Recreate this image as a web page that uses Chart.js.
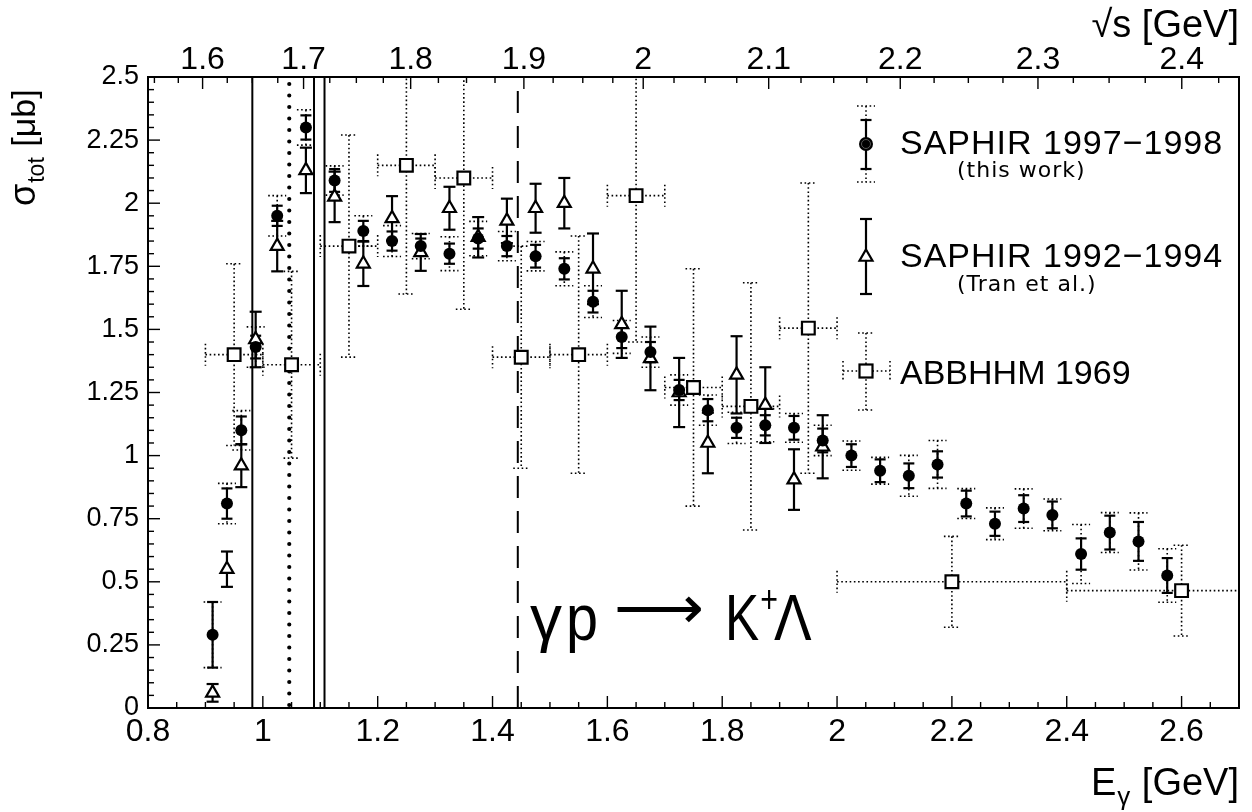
<!DOCTYPE html>
<html><head><meta charset="utf-8">
<script src="https://cdn.jsdelivr.net/npm/chart.js@4.4.1/dist/chart.umd.min.js"></script>
<style>html,body{margin:0;padding:0;background:#fff;overflow:hidden}canvas{display:block}</style>
</head><body>
<canvas id="c" width="1252" height="812"></canvas>
<script>
// ---------- data ----------
const MP = 0.938272;
// SAPHIR 1997-1998 (this work): E_gamma, sigma, stat, sys
const e97 = [0.9125,0.9375,0.9625,0.9875,1.025,1.075,1.125,1.175,1.225,1.275,1.325,1.375,1.425,1.475,1.525,1.575,1.625,1.675,1.725,1.775,1.825,1.875,1.925,1.975,2.025,2.075,2.125,2.175,2.225,2.275,2.325,2.375,2.425,2.475,2.525,2.575];
const sig97 = [0.29,0.81,1.10,1.43,1.95,2.30,2.09,1.89,1.85,1.83,1.80,1.86,1.83,1.79,1.74,1.61,1.47,1.41,1.26,1.18,1.11,1.12,1.11,1.06,1.00,0.94,0.92,0.965,0.81,0.73,0.79,0.765,0.61,0.695,0.66,0.525];
const stat97 = [0.13,0.06,0.055,0.045,0.04,0.048,0.045,0.04,0.038,0.03,0.04,0.04,0.04,0.045,0.042,0.043,0.044,0.04,0.04,0.044,0.04,0.04,0.047,0.047,0.045,0.045,0.049,0.052,0.051,0.048,0.053,0.053,0.062,0.067,0.077,0.069];
const sys97 = [0.13,0.08,0.078,0.08,0.08,0.07,0.058,0.06,0.061,0.05,0.067,0.068,0.058,0.058,0.067,0.063,0.065,0.06,0.06,0.06,0.062,0.065,0.057,0.06,0.058,0.053,0.081,0.095,0.059,0.063,0.078,0.063,0.117,0.079,0.113,0.106];
// SAPHIR 1992-1994 (Tran et al.)
const e94 = [0.9125,0.9375,0.9625,0.9875,1.025,1.075,1.125,1.175,1.225,1.275,1.325,1.375,1.425,1.475,1.525,1.575,1.625,1.675,1.725,1.775,1.825,1.875,1.925,1.975];
const sig94 = [0.06,0.55,0.96,1.46,1.83,2.13,2.025,1.76,1.94,1.805,1.98,1.865,1.93,1.98,2.00,1.74,1.52,1.385,1.25,1.05,1.32,1.20,0.905,1.035];
const err94 = [0.035,0.07,0.085,0.11,0.10,0.09,0.10,0.088,0.088,0.073,0.085,0.08,0.088,0.097,0.10,0.14,0.133,0.126,0.137,0.12,0.153,0.15,0.12,0.125];
// ABBHHM 1969
const eAb = [0.95,1.05,1.15,1.25,1.35,1.45,1.55,1.65,1.75,1.85,1.95,2.2,2.6];
const eLoAb = [0.9,1.0,1.1,1.2,1.3,1.4,1.5,1.6,1.7,1.8,1.9,2.0,2.4];
const eHiAb = [1.0,1.1,1.2,1.3,1.4,1.5,1.6,1.7,1.8,1.9,2.0,2.4,2.8];
const sigAb = [1.40,1.36,1.83,2.15,2.10,1.39,1.40,2.03,1.27,1.195,1.505,0.50,0.465];
const errAb = [0.36,0.37,0.44,0.51,0.52,0.44,0.47,0.58,0.47,0.49,0.575,0.18,0.18];
// marker lines (E_gamma)
const solidLinesE = [0.9817,1.0891,1.1074];
const dottedLinesE = [1.046];
const dashedLinesE = [1.444];
// axes
const xTickVals = [0.8,1,1.2,1.4,1.6,1.8,2,2.2,2.4,2.6];
const xTickLabels = ['0.8','1','1.2','1.4','1.6','1.8','2','2.2','2.4','2.6'];
const yTickVals = [0,0.25,0.5,0.75,1,1.25,1.5,1.75,2,2.25,2.5];
const yTickLabels = ['0','0.25','0.5','0.75','1','1.25','1.5','1.75','2','2.25','2.5'];
const sqrtsTickVals = [1.6,1.7,1.8,1.9,2.0,2.1,2.2,2.3,2.4];
const sqrtsTickLabels = ['1.6','1.7','1.8','1.9','2','2.1','2.2','2.3','2.4'];

const eFromSqrts = w => (w*w - MP*MP)/(2*MP);
const NARROW = "'Liberation Sans Narrow','Liberation Sans',Arial,sans-serif";
const REG = "'Liberation Sans',Arial,sans-serif";

function line(ctx,x1,y1,x2,y2){ctx.beginPath();ctx.moveTo(x1,y1);ctx.lineTo(x2,y2);ctx.stroke();}
function textScaled(ctx, t, x, y, sx){ctx.save();ctx.translate(x,y);ctx.scale(sx,1);ctx.fillText(t,0,0);ctx.restore();return ctx.measureText(t).width*sx;}
const DOT = [1.6,2.6];

const physPlugin = {
  id: 'phys',
  beforeDatasetsDraw(chart) {
    const {ctx, chartArea:a, scales} = chart;
    const X = v => scales.x.getPixelForValue(v), Y = v => scales.y.getPixelForValue(v);
    ctx.save();
    ctx.beginPath(); ctx.rect(a.left, a.top, a.right-a.left, a.bottom-a.top); ctx.clip();
    ctx.strokeStyle = '#000';
    // vertical lines
    ctx.lineWidth = 2; ctx.setLineDash([]);
    solidLinesE.forEach(e => line(ctx, X(e), a.top, X(e), a.bottom));
    ctx.lineWidth = 4.2; ctx.lineCap = 'round'; ctx.setLineDash([0, 11.5]);
    dottedLinesE.forEach(e => line(ctx, X(e), a.bottom-3, X(e), a.top));
    ctx.lineCap = 'butt';
    ctx.lineWidth = 2; ctx.setLineDash([22, 13]);
    dashedLinesE.forEach(e => line(ctx, X(e), a.bottom, X(e), a.top));
    // ABBHHM dotted errors
    ctx.lineWidth = 1.6; ctx.setLineDash(DOT);
    eAb.forEach((e,i) => {
      const px = X(e), py = Y(sigAb[i]), xl = X(eLoAb[i]), xh = X(eHiAb[i]);
      const yt = Y(sigAb[i]+errAb[i]), yb = Y(sigAb[i]-errAb[i]);
      line(ctx, xl, py, xh, py); line(ctx, px, yt, px, yb);
      line(ctx, xl, py-11, xl, py+11); line(ctx, xh, py-11, xh, py+11);
      line(ctx, px-8, yt, px+8, yt); line(ctx, px-8, yb, px+8, yb);
    });
    // SAPHIR 92-94
    ctx.setLineDash([]); ctx.lineWidth = 2.2;
    e94.forEach((e,i) => {
      const px = X(e), yt = Y(sig94[i]+err94[i]), yb = Y(sig94[i]-err94[i]);
      line(ctx, px, yt, px, yb); line(ctx, px-6, yt, px+6, yt); line(ctx, px-6, yb, px+6, yb);
    });
    // SAPHIR 97-98 sys (dotted) and stat (solid)
    e97.forEach((e,i) => {
      const px = X(e);
      const st = Y(sig97[i]+sys97[i]), sb = Y(sig97[i]-sys97[i]);
      ctx.setLineDash(DOT); ctx.lineWidth = 1.6;
      line(ctx, px, st, px, sb); line(ctx, px-9, st, px+9, st); line(ctx, px-9, sb, px+9, sb);
      const yt = Y(sig97[i]+stat97[i]), yb = Y(sig97[i]-stat97[i]);
      ctx.setLineDash([]); ctx.lineWidth = 2.2;
      line(ctx, px, yt, px, yb); line(ctx, px-5.5, yt, px+5.5, yt); line(ctx, px-5.5, yb, px+5.5, yb);
    });
    ctx.restore();
  },
  afterDraw(chart) {
    const {ctx, chartArea:a, scales} = chart;
    const X = v => scales.x.getPixelForValue(v), Y = v => scales.y.getPixelForValue(v);
    ctx.save();
    ctx.strokeStyle = '#000'; ctx.fillStyle = '#000';
    // frame
    ctx.lineWidth = 2; ctx.setLineDash([]);
    ctx.strokeRect(a.left, a.top, a.right-a.left, a.bottom-a.top);
    // ticks inside
    ctx.lineWidth = 1.4;
    for (let i = 0; i <= 38; i++) {
      const v = 0.8 + i*0.05, px = X(v), L = (i%4===0) ? 12 : 6;
      line(ctx, px, a.bottom, px, a.bottom-L);
    }
    for (let i = 0; i <= 50; i++) {
      const v = i*0.05, py = Y(v), L = (i%5===0) ? 12 : 6;
      line(ctx, a.left, py, a.left+L, py);
    }
    for (let i = 0; i <= 40; i++) {
      const w = 1.525 + i*0.025, e = eFromSqrts(w);
      if (e < 0.8 || e > 2.7) continue;
      const px = X(e), L = (Math.round(w*1000) % 100 === 0) ? 12 : 6;
      line(ctx, px, a.top, px, a.top+L);
    }
    // y title
    ctx.save();
    ctx.translate(35, 206); ctx.rotate(-Math.PI/2);
    ctx.textAlign = 'left'; ctx.textBaseline = 'alphabetic';
    ctx.font = '36px ' + REG; ctx.fillText('σ', 0, 0);
    let w1 = ctx.measureText('σ').width;
    ctx.font = '23px ' + REG; ctx.fillText('tot', w1+1, 9);
    let w2 = ctx.measureText('tot').width;
    ctx.font = '34px ' + REG; ctx.fillText(' [μb]', w1+w2+2, 0);
    ctx.restore();
    // x title (right aligned)
    ctx.textAlign = 'right'; ctx.textBaseline = 'alphabetic';
    ctx.font = '38px ' + NARROW;
    const r = a.right;
    ctx.fillText(' [GeV]', r, 795);
    let wg = ctx.measureText(' [GeV]').width;
    ctx.font = '26px ' + REG;
    ctx.fillText('γ', r - wg - 1, 805);
    let wgam = ctx.measureText('γ').width;
    ctx.font = '38px ' + NARROW;
    ctx.fillText('E', r - wg - wgam - 2, 795);
    // top title
    ctx.font = '38px ' + NARROW;
    ctx.fillText('√s [GeV]', r, 37);
    // legend
    const lx = 866;
    ctx.textAlign = 'left';
    // item 1
    ctx.setLineDash(DOT); ctx.lineWidth = 1.6;
    line(ctx, lx, 106, lx, 182); line(ctx, lx-9, 106, lx+9, 106); line(ctx, lx-9, 182, lx+9, 182);
    ctx.setLineDash([]); ctx.lineWidth = 2.2;
    line(ctx, lx, 120, lx, 169); line(ctx, lx-5.5, 120, lx+5.5, 120); line(ctx, lx-5.5, 169, lx+5.5, 169);
    ctx.beginPath(); ctx.arc(lx, 144, 7, 0, 2*Math.PI); ctx.fill();
    ctx.lineWidth = 1; ctx.strokeStyle = '#555'; ctx.beginPath(); ctx.arc(lx, 144, 4.5, 0, 2*Math.PI); ctx.stroke();
    ctx.strokeStyle = '#000';
    ctx.font = '34px ' + REG; ctx.letterSpacing = '1px'; ctx.fillText('SAPHIR 1997−1998', 900, 154); ctx.letterSpacing = '0px';
    ctx.font = '22px DejaVu Sans'; ctx.letterSpacing = '1px'; ctx.fillText('(this work)', 957, 177); ctx.letterSpacing = '0px';
    // item 2
    ctx.lineWidth = 2.2;
    line(ctx, lx, 219, lx, 294); line(ctx, lx-6, 219, lx+6, 219); line(ctx, lx-6, 294, lx+6, 294);
    ctx.fillStyle = '#fff';
    Chart.helpers.drawPoint(ctx, {pointStyle:'triangle', radius:7.5, borderWidth:2.2, rotation:0}, lx, 257);
    ctx.fillStyle = '#000';
    ctx.font = '34px ' + REG; ctx.letterSpacing = '1px'; ctx.fillText('SAPHIR 1992−1994', 900, 267); ctx.letterSpacing = '0px';
    ctx.font = '22px DejaVu Sans'; ctx.letterSpacing = '1px'; ctx.fillText('(Tran et al.)', 957, 291); ctx.letterSpacing = '0px';
    // item 3
    ctx.setLineDash(DOT); ctx.lineWidth = 1.6;
    line(ctx, lx, 333, lx, 410); line(ctx, lx-8, 333, lx+8, 333); line(ctx, lx-8, 410, lx+8, 410);
    line(ctx, 843, 371, 890, 371); line(ctx, 843, 361, 843, 381); line(ctx, 890, 361, 890, 381);
    ctx.setLineDash([]);
    ctx.fillStyle = '#fff'; ctx.lineWidth = 2.2;
    ctx.fillRect(lx-6.5, 371-6.5, 13, 13); ctx.strokeRect(lx-6.5, 371-6.5, 13, 13);
    ctx.fillStyle = '#000';
    ctx.font = '34px ' + REG; ctx.fillText('ABBHHM 1969', 900, 384);
    // reaction label
    ctx.font = '64px ' + REG;
    textScaled(ctx, 'γ', 530, 640, 1.0);
    textScaled(ctx, 'p', 566, 640, 0.9);
    ctx.font = '60px DejaVu Sans';
    const aw = ctx.measureText('⟶').width;
    textScaled(ctx, '⟶', 614, 628, 90/aw);
    ctx.font = '64px ' + REG;
    const kw = textScaled(ctx, 'K', 725, 640, 0.8);
    ctx.font = '38px ' + REG;
    textScaled(ctx, '+', 725 + kw + 1, 612, 0.8);
    ctx.font = '64px ' + REG;
    textScaled(ctx, 'Λ', 774, 640, 0.88);
    ctx.restore();
  }
};

const ctx = document.getElementById('c').getContext('2d');
new Chart(ctx, {
  type: 'scatter',
  data: {
    datasets: [
      { label: 'SAPHIR 1997-1998', data: e97.map((x,i)=>({x, y: sig97[i]})),
        pointStyle: 'circle', pointRadius: 6, pointBackgroundColor: '#000', pointBorderColor: '#000', pointBorderWidth: 0 },
      { label: 'SAPHIR 1992-1994', data: e94.map((x,i)=>({x, y: sig94[i]})),
        pointStyle: 'triangle', pointRadius: 7.5, pointBackgroundColor: '#fff', pointBorderColor: '#000', pointBorderWidth: 2.2 },
      { label: 'ABBHHM 1969', data: eAb.map((x,i)=>({x, y: sigAb[i]})),
        pointStyle: 'rect', pointRadius: 9, pointBackgroundColor: '#fff', pointBorderColor: '#000', pointBorderWidth: 2.2 }
    ]
  },
  options: {
    responsive: false, animation: false, devicePixelRatio: 1,
    layout: { padding: { left: 0, right: 13, top: 0, bottom: 0 } },
    plugins: { legend: { display: false }, tooltip: { enabled: false } },
    scales: {
      x: { type: 'linear', axis: 'x', position: 'bottom', min: 0.8, max: 2.7,
           grid: { display: false, drawTicks: false }, border: { display: false },
           afterBuildTicks: s => { s.ticks = xTickVals.map(v => ({value: v})); },
           afterFit: s => { s.height = 104; },
           ticks: { autoSkip: false, maxRotation: 0, padding: 5, color: '#000',
                    font: { family: NARROW, size: 32 }, callback: (v, i) => xTickLabels[i] } },
      x2: { type: 'linear', axis: 'x', position: 'top', min: 0.8, max: 2.7,
           grid: { display: false, drawTicks: false }, border: { display: false },
           afterBuildTicks: s => { s.ticks = sqrtsTickVals.map(w => ({value: eFromSqrts(w)})); },
           afterFit: s => { s.height = 77; },
           ticks: { autoSkip: false, maxRotation: 0, padding: -2, color: '#000',
                    font: { family: NARROW, size: 32 }, callback: (v, i) => sqrtsTickLabels[i] } },
      y: { type: 'linear', position: 'left', min: 0, max: 2.5,
           grid: { display: false, drawTicks: false }, border: { display: false },
           afterBuildTicks: s => { s.ticks = yTickVals.map(v => ({value: v})); },
           afterFit: s => { s.width = 148; },
           ticks: { autoSkip: false, padding: 9, color: '#000',
                    font: { family: REG, size: 27 }, callback: (v, i) => yTickLabels[i] } }
    }
  },
  plugins: [physPlugin]
});
</script>
</body></html>
